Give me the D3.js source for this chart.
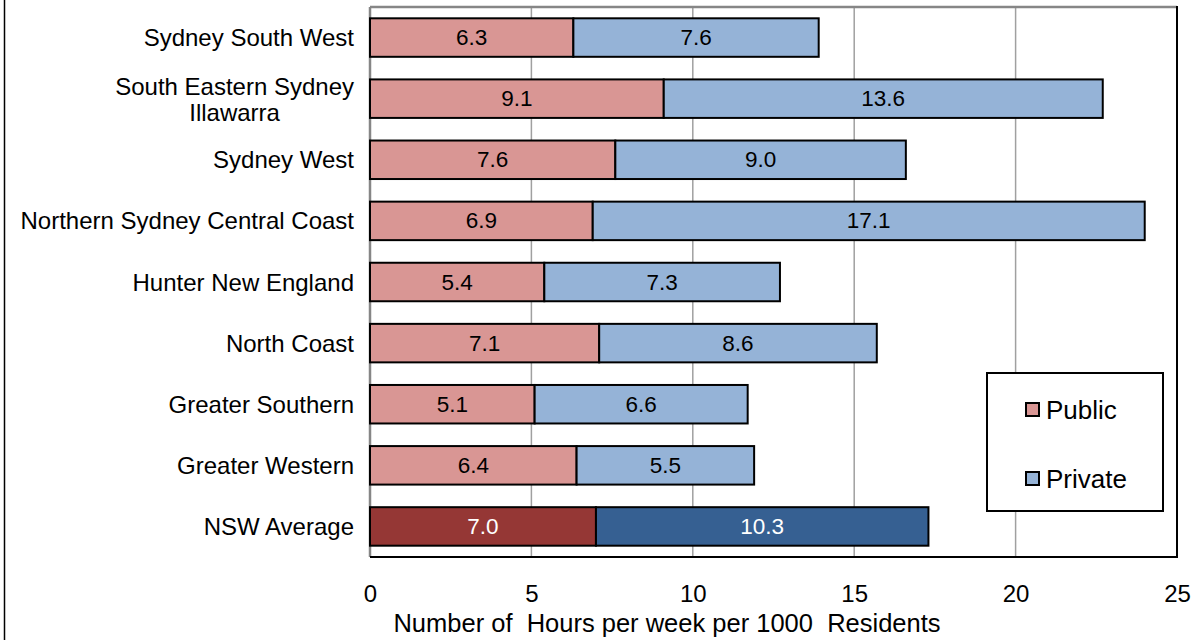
<!DOCTYPE html>
<html>
<head>
<meta charset="utf-8">
<script src="https://cdn.jsdelivr.net/npm/d3@7"></script>
<style>
  html, body { margin: 0; padding: 0; background: #fff; }
  svg { display: block; font-family: "Liberation Sans", Arial, sans-serif; }
</style>
</head>
<body>
<svg id="chart" width="1204" height="640"></svg>
<script>
// ---- data ----
const categories = [
  "Sydney South West",
  "South Eastern Sydney Illawarra",
  "Sydney West",
  "Northern Sydney Central Coast",
  "Hunter New England",
  "North Coast",
  "Greater Southern",
  "Greater Western",
  "NSW Average"
];
const categoryLines = [
  ["Sydney South West"],
  ["South Eastern Sydney", "Illawarra"],
  ["Sydney West"],
  ["Northern Sydney Central Coast"],
  ["Hunter New England"],
  ["North Coast"],
  ["Greater Southern"],
  ["Greater Western"],
  ["NSW Average"]
];
const publicValues  = [6.3, 9.1, 7.6, 6.9, 5.4, 7.1, 5.1, 6.4, 7.0];
const privateValues = [7.6, 13.6, 9.0, 17.1, 7.3, 8.6, 6.6, 5.5, 10.3];
const seriesNames = ["Public", "Private"];
const xTicks = [0, 5, 10, 15, 20, 25];
const xTitle = "Number of  Hours per week per 1000  Residents";

// ---- layout ----
const svg = d3.select("#chart");
const plot = { left: 370, top: 7, right: 1177, bottom: 557 };

const x = d3.scaleLinear().domain([0, 25]).range([plot.left, plot.right]);
const y = d3.scaleBand().domain(categories).range([plot.top, plot.bottom])
  .paddingInner(0.37).paddingOuter(0.185);

const colors = {
  Public: "#D99694", Private: "#95B3D7",
  PublicAvg: "#953735", PrivateAvg: "#366092"
};

// outer chart border (left edge visible)
svg.append("line").attr("x1", 4.5).attr("x2", 4.5).attr("y1", 0).attr("y2", 640)
  .attr("stroke", "#000").attr("stroke-width", 1.5);

// gridlines
svg.append("g").selectAll("line").data(xTicks.filter(d => d > 0 && d < 25)).join("line")
  .attr("x1", d => x(d)).attr("x2", d => x(d))
  .attr("y1", plot.top).attr("y2", plot.bottom)
  .attr("stroke", "#a0a0a0").attr("stroke-width", 1.5);

// plot border
svg.append("line").attr("x1", plot.left).attr("x2", plot.right).attr("y1", plot.top).attr("y2", plot.top)
  .attr("stroke", "#868686").attr("stroke-width", 2.5);
svg.append("line").attr("x1", plot.left).attr("x2", plot.left).attr("y1", plot.top).attr("y2", plot.bottom)
  .attr("stroke", "#868686").attr("stroke-width", 2.5);
svg.append("line").attr("x1", plot.right).attr("x2", plot.right).attr("y1", plot.top - 1).attr("y2", plot.bottom + 1)
  .attr("stroke", "#000").attr("stroke-width", 2);
svg.append("line").attr("x1", plot.left).attr("x2", plot.right + 1).attr("y1", plot.bottom).attr("y2", plot.bottom)
  .attr("stroke", "#000").attr("stroke-width", 2);

// bars
const rows = categories.map((c, i) => ({ cat: c, pub: publicValues[i], priv: privateValues[i], avg: c === "NSW Average" }));
const barG = svg.append("g");
const valSize = 22.5;
rows.forEach(r => {
  barG.append("rect")
    .attr("x", x(0)).attr("y", y(r.cat))
    .attr("width", x(r.pub) - x(0)).attr("height", y.bandwidth())
    .attr("fill", r.avg ? colors.PublicAvg : colors.Public)
    .attr("stroke", "#000").attr("stroke-width", 2);
  barG.append("rect")
    .attr("x", x(r.pub)).attr("y", y(r.cat))
    .attr("width", x(r.pub + r.priv) - x(r.pub)).attr("height", y.bandwidth())
    .attr("fill", r.avg ? colors.PrivateAvg : colors.Private)
    .attr("stroke", "#000").attr("stroke-width", 2);
  const cy = y(r.cat) + y.bandwidth() / 2;
  barG.append("text")
    .attr("x", (x(0) + x(r.pub)) / 2).attr("y", cy)
    .attr("text-anchor", "middle").attr("dominant-baseline", "central")
    .attr("font-size", valSize).attr("fill", r.avg ? "#fff" : "#000")
    .text(r.pub.toFixed(1));
  barG.append("text")
    .attr("x", (x(r.pub) + x(r.pub + r.priv)) / 2).attr("y", cy)
    .attr("text-anchor", "middle").attr("dominant-baseline", "central")
    .attr("font-size", valSize).attr("fill", r.avg ? "#fff" : "#000")
    .text(r.priv.toFixed(1));
});

// category labels
const labG = svg.append("g");
const labSize = 24;
categories.forEach((c, i) => {
  const lines = categoryLines[i];
  const cy = y(c) + y.bandwidth() / 2;
  const lh = 26;
  if (lines.length === 1) {
    labG.append("text").attr("x", 354).attr("y", cy)
      .attr("text-anchor", "end").attr("dominant-baseline", "central")
      .attr("font-size", labSize).attr("fill", "#000").text(lines[0]);
  } else {
    const t0 = labG.append("text").attr("font-size", labSize).text(lines[0]);
    const w = Math.max(...lines.map(l => { t0.text(l); return t0.node().getComputedTextLength(); }));
    t0.remove();
    const cx = 354 - w / 2;
    lines.forEach((l, k) => {
      labG.append("text").attr("x", cx).attr("y", cy + 1 + (k - (lines.length - 1) / 2) * lh)
        .attr("text-anchor", "middle").attr("dominant-baseline", "central")
        .attr("font-size", labSize).attr("fill", "#000").text(l);
    });
  }
});

// x axis
const xAxis = d3.axisBottom(x).tickValues(xTicks).tickSize(0).tickPadding(28).tickFormat(d3.format("d"));
const axG = svg.append("g").attr("transform", `translate(0,${plot.bottom})`).call(xAxis);
axG.select(".domain").remove();
axG.selectAll("text").attr("font-size", 24).attr("fill", "#000").attr("font-family", "Liberation Sans, Arial, sans-serif");

// x title
svg.append("text").attr("x", 667).attr("y", 632)
  .attr("text-anchor", "middle")
  .attr("font-size", 25.5).attr("fill", "#000").style("white-space", "pre")
  .text(xTitle);

// legend
const lg = svg.append("g");
lg.append("rect").attr("x", 987).attr("y", 373).attr("width", 176).attr("height", 138)
  .attr("fill", "#fff").attr("stroke", "#000").attr("stroke-width", 2);
seriesNames.forEach((s, i) => {
  const cy = [410, 479][i];
  lg.append("rect").attr("x", 1026).attr("y", cy - 7).attr("width", 13).attr("height", 13)
    .attr("fill", colors[s]).attr("stroke", "#000").attr("stroke-width", 2);
  lg.append("text").attr("x", 1046).attr("y", cy)
    .attr("dominant-baseline", "central").attr("font-size", 26).attr("fill", "#000").text(s);
});
</script>
</body>
</html>
